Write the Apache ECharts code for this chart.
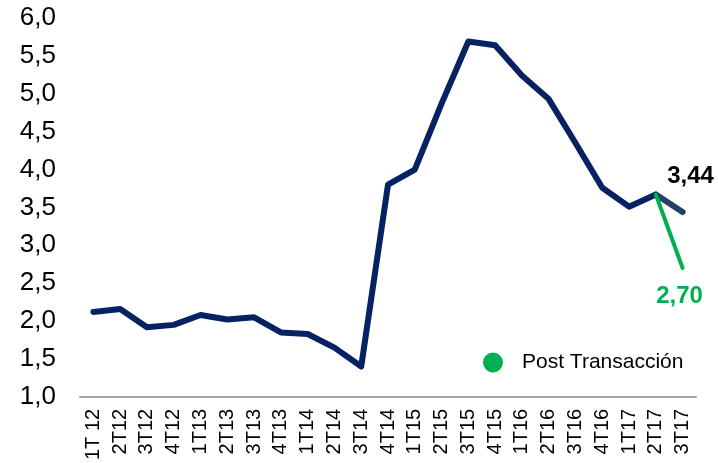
<!DOCTYPE html>
<html>
<head>
<meta charset="utf-8">
<script src="https://cdn.jsdelivr.net/npm/echarts@6/dist/echarts.min.js"></script>
<style>
html,body{margin:0;padding:0;background:#fff;}
#chart{width:718px;height:463px;}
</style>
</head>
<body>
<div id="chart"></div>
<script>
const categories = ['1T 12','2T12','3T12','4T12','1T13','2T13','3T13','4T13','1T14','2T14','3T14','4T14','1T15','2T15','3T15','4T15','1T16','2T16','3T16','4T16','1T17','2T17','3T17'];
const mainValues = [2.12,2.16,1.92,1.95,2.08,2.02,2.05,1.85,1.83,1.65,1.40,3.80,4.00,4.87,5.69,5.64,5.24,4.93,4.35,3.76,3.51,3.67,null];
const lastSegment = [null,null,null,null,null,null,null,null,null,null,null,null,null,null,null,null,null,null,null,null,null,3.67,3.44];
const postTransaccion = [null,null,null,null,null,null,null,null,null,null,null,null,null,null,null,null,null,null,null,null,null,3.67,2.70];
const yTicks = {min:1, max:6, interval:0.5};

const fmt = v => v.toFixed(2).replace('.', ',');
const chart = echarts.init(document.getElementById('chart'));
const FONT = '"Liberation Sans", Arial, sans-serif';
chart.setOption({
  animation:false,
  textStyle:{fontFamily:FONT},
  grid:{left:80,right:22,top:18,bottom:61,containLabel:false},
  legend:{
    left:483, top:352, padding:0,
    itemWidth:20, itemHeight:20,
    data:[{name:'Post Transacción', icon:'circle'}],
    textStyle:{fontSize:21,color:'#000',fontFamily:FONT,padding:[0,0,0,14]}
  },
  xAxis:{
    type:'category',
    data:categories,
    boundaryGap:true,
    axisLine:{show:true,lineStyle:{color:'#a6a6a6',width:2}},
    axisTick:{show:false},
    axisLabel:{rotate:90,fontSize:20,color:'#000',margin:12,interval:0,fontFamily:FONT}
  },
  yAxis:{
    type:'value',
    min:yTicks.min, max:yTicks.max, interval:yTicks.interval,
    axisLine:{show:false},
    axisTick:{show:false},
    splitLine:{show:false},
    axisLabel:{fontSize:26,color:'#000',margin:24,fontFamily:FONT,
      formatter:v=>v.toFixed(1).replace('.', ',')}
  },
  series:[
    {
      name:'Principal',
      type:'line',
      data:mainValues,
      symbol:'none',
      lineStyle:{color:'#062262',width:6,join:'round',cap:'round'},
      itemStyle:{color:'#062262'},
      z:3
    },
    {
      name:'Último',
      type:'line',
      data:lastSegment,
      symbol:'circle',
      symbolSize:0.1,
      showSymbol:true,
      lineStyle:{color:'#263f68',width:6,cap:'round'},
      itemStyle:{color:'#263f68'},
      label:{
        show:true,
        position:'top',
        distance:5,
        offset:[8,-19],
        fontSize:24,
        fontWeight:'bold',
        color:'#000',
        fontFamily:FONT,
        formatter:p => p.dataIndex === categories.length-1 ? fmt(p.value) : ''
      },
      z:2
    },
    {
      name:'Post Transacción',
      type:'line',
      data:postTransaccion,
      symbol:'circle',
      symbolSize:0.1,
      showSymbol:true,
      lineStyle:{color:'#00b050',width:4,cap:'round'},
      itemStyle:{color:'#00b050'},
      label:{
        show:true,
        position:'bottom',
        distance:5,
        offset:[-3,11],
        fontSize:24,
        fontWeight:'bold',
        color:'#00b050',
        fontFamily:FONT,
        formatter:p => p.dataIndex === categories.length-1 ? fmt(p.value) : ''
      },
      z:4
    }
  ]
});
</script>
</body>
</html>
